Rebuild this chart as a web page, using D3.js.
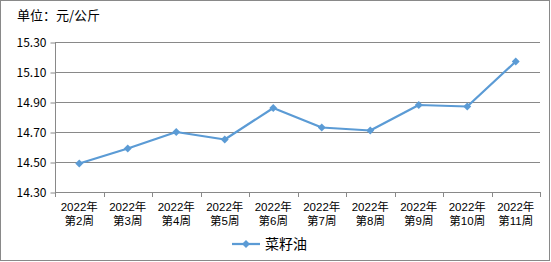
<!DOCTYPE html>
<html><head><meta charset="utf-8">
<script src="https://cdn.jsdelivr.net/npm/d3@7"></script>
<style>body{margin:0;background:#fff}svg{display:block}</style>
</head><body>
<svg id="c" width="551" height="262"></svg>
<script>
const years = ["2022年","2022年","2022年","2022年","2022年","2022年","2022年","2022年","2022年","2022年"];
const weeks = ["第2周","第3周","第4周","第5周","第6周","第7周","第8周","第9周","第10周","第11周"];
const values = [14.49,14.59,14.70,14.65,14.86,14.73,14.71,14.88,14.87,15.17];
const yTicks = [14.30,14.50,14.70,14.90,15.10,15.30];
const seriesName = "菜籽油";
const unitLabel = "单位：元/公斤";

const font = "'Noto Sans CJK SC','DejaVu Sans',sans-serif";
const labFont = "'Liberation Sans','Noto Sans CJK SC',sans-serif";
const color = "#5B9BD5";
const grid = "#898989";
const svg = d3.select("#c");
const L = 55, R = 540, T = 42, B = 192;

svg.append("rect").attr("x",0.5).attr("y",0.5).attr("width",549).attr("height",260)
  .attr("fill","#fff").attr("stroke",grid).attr("stroke-width",1);

const cats = weeks.map((w,i)=>i);
const x = d3.scaleBand().domain(cats).range([L,R]).padding(0);
const y = d3.scaleLinear().domain([14.30,15.30]).range([B,T]);

// gridlines
svg.append("g").selectAll("line").data(yTicks.slice(1)).join("line")
  .attr("x1",L).attr("x2",R).attr("y1",d=>Math.round(y(d))+0.5).attr("y2",d=>Math.round(y(d))+0.5)
  .attr("stroke",grid).attr("stroke-width",1);

// y axis
const ya = svg.append("g").attr("transform",`translate(${L+0.5},0.5)`)
  .call(d3.axisLeft(y).tickValues(yTicks).tickFormat(d3.format(".2f")).tickSize(5).tickPadding(4));
ya.select(".domain").attr("stroke",grid).attr("d",`M0,${T}V${B}`);
ya.selectAll(".tick line").attr("stroke",grid);
ya.selectAll(".tick text").attr("font-family",font).attr("font-size",12).attr("fill","#000");

// x axis
const xa = svg.append("g").attr("transform",`translate(0.5,${B+0.5})`)
  .call(d3.axisBottom(x).tickSize(0).tickFormat(""));
xa.select(".domain").attr("stroke",grid).attr("d",`M${L},0H${R}`);
svg.append("g").selectAll("line").data(d3.range(cats.length+1)).join("line")
  .attr("x1",d=>Math.round(L + d*x.bandwidth())+0.5).attr("x2",d=>Math.round(L + d*x.bandwidth())+0.5)
  .attr("y1",B).attr("y2",B+5).attr("stroke",grid);
const cx = d=>x(d)+x.bandwidth()/2;
svg.append("g").selectAll("text").data(cats).join("text")
  .attr("text-anchor","middle").attr("font-family",labFont).attr("font-size",11.5).attr("fill","#000")
  .attr("x",cx).attr("y",211).text(d=>years[d]);
svg.append("g").selectAll("text").data(cats).join("text")
  .attr("text-anchor","middle").attr("font-family",labFont).attr("font-size",11.5).attr("fill","#000")
  .attr("x",cx).attr("y",225).text(d=>weeks[d]);

// line
const line = d3.line().x((d,i)=>cx(i)).y(d=>y(d));
svg.append("path").datum(values).attr("d",line).attr("fill","none")
  .attr("stroke",color).attr("stroke-width",2.25).attr("stroke-linejoin","round");
const diamond = d3.symbol().type(d3.symbolDiamond2).size(40);
svg.append("g").selectAll("path").data(values).join("path")
  .attr("d",diamond).attr("transform",(d,i)=>`translate(${cx(i)},${y(d)})`)
  .attr("fill",color);

// title
svg.append("text").attr("x",17).attr("y",20).attr("font-family",font).attr("font-size",13)
  .attr("fill","#000").text(unitLabel);

// legend
svg.append("line").attr("x1",232).attr("x2",260).attr("y1",244).attr("y2",244)
  .attr("stroke",color).attr("stroke-width",2.25);
svg.append("path").attr("d",diamond).attr("transform","translate(246,244)").attr("fill",color);
svg.append("text").attr("x",265).attr("y",249).attr("font-family",font).attr("font-size",14)
  .attr("fill","#000").text(seriesName);
</script>
</body></html>
